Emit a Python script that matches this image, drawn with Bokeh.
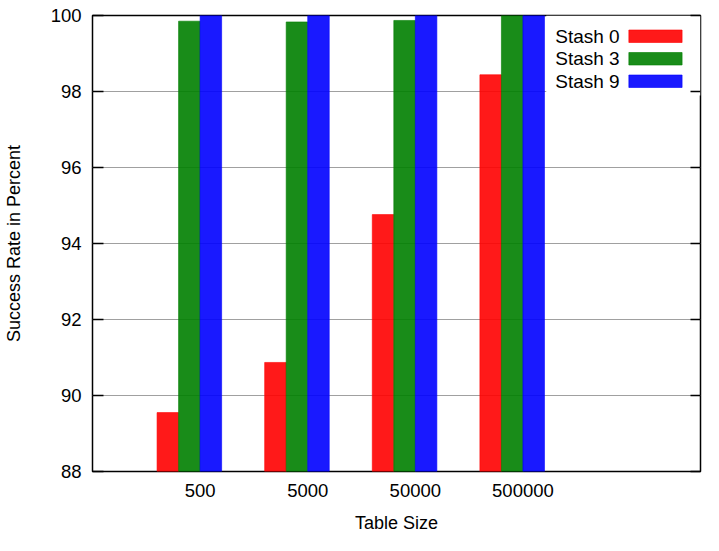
from bokeh.plotting import figure
from bokeh.models import (FixedTicker, LinearAxis, BoxAnnotation, Label, Range1d,
                          ColumnDataSource)
from bokeh.transform import dodge
from bokeh.embed import file_html
from bokeh.resources import INLINE

# ---- data ----
categories = ["500", "5000", "50000", "500000"]
stash0 = [89.55, 90.87, 94.76, 98.44]
stash3 = [99.85, 99.83, 99.87, 100.0]
stash9 = [100.0, 100.0, 100.0, 100.0]
series_names = ["Stash 0", "Stash 3", "Stash 9"]
y_ticks = [88, 90, 92, 94, 96, 98, 100]

# ---- layout ----
W, H = 703, 535
LEFT, RIGHT, TOP, BOTTOM = 89, 3, 15, 64
XMIN, XMAX = -1, 4.65
YMIN, YMAX = 88, 100
FONT = "Liberation Sans"
FS_TICK = "18.5px"
FS_LABEL = "18px"
FS_LEGEND = "19px"

pos = list(range(len(categories)))
src = ColumnDataSource(dict(pos=pos, cat=categories, s0=stash0, s3=stash3, s9=stash9))

p = figure(width=W, height=H, output_backend="svg", toolbar_location=None,
           x_range=Range1d(XMIN, XMAX), y_range=Range1d(YMIN, YMAX),
           min_border_left=LEFT, min_border_right=RIGHT,
           min_border_top=TOP, min_border_bottom=BOTTOM,
           background_fill_color="white", border_fill_color="white")

colors = ["#ff0000", "#007f00", "#0000ff"]
offsets = [-0.3, -0.1, 0.1]
for col, off, c in zip(["s0", "s3", "s9"], offsets, colors):
    p.vbar(x=dodge("pos", off, range=p.x_range), top=col, bottom=0, width=0.2,
           source=src, fill_color=c, fill_alpha=0.9, line_color=c, line_alpha=0.6,
           line_width=1)

# grid
p.xgrid.visible = False
p.ygrid.ticker = FixedTicker(ticks=y_ticks)
p.ygrid.grid_line_color = "#a0a0a0"
p.ygrid.grid_line_width = 1

# frame
p.outline_line_color = "black"
p.outline_line_width = 1.5
p.outline_line_alpha = 1

# x axis
xa = p.xaxis[0]
xa.ticker = FixedTicker(ticks=pos)
xa.major_label_overrides = {i: c for i, c in zip(pos, categories)}
xa.major_tick_in = 0
xa.major_tick_out = 0
xa.minor_tick_in = 0
xa.minor_tick_out = 0
xa.axis_line_color = None
xa.major_label_standoff = 12
xa.major_label_text_font = FONT
xa.major_label_text_font_size = FS_TICK
xa.major_label_text_color = "black"
xa.axis_label = "Table Size"
xa.axis_label_standoff = 13
xa.axis_label_text_font = FONT
xa.axis_label_text_font_size = FS_LABEL
xa.axis_label_text_font_style = "normal"
xa.axis_label_text_color = "black"

# y axis
ya = p.yaxis[0]
ya.ticker = FixedTicker(ticks=y_ticks)
ya.major_tick_in = 11
ya.major_tick_out = 0
ya.minor_tick_in = 0
ya.minor_tick_out = 0
ya.major_tick_line_color = "black"
ya.major_tick_line_width = 1.5
ya.axis_line_color = None
ya.major_label_standoff = 11
ya.major_label_text_font = FONT
ya.major_label_text_font_size = FS_TICK
ya.major_label_text_color = "black"
ya.axis_label = "Success Rate in Percent"
ya.axis_label_standoff = 24
ya.axis_label_text_font = FONT
ya.axis_label_text_font_size = FS_LABEL
ya.axis_label_text_font_style = "normal"
ya.axis_label_text_color = "black"

# mirrored ticks on the right border
ra = LinearAxis(ticker=FixedTicker(ticks=y_ticks),
                major_label_overrides={t: "" for t in y_ticks},
                major_tick_in=10, major_tick_out=0, minor_tick_in=0, minor_tick_out=0,
                major_tick_line_color="black", major_tick_line_width=1.5,
                axis_line_color=None, major_label_standoff=0)
p.add_layout(ra, "right")

# ---- legend (text then swatch, as in the original) ----
FRAME_W = W - LEFT - RIGHT
FRAME_H = H - TOP - BOTTOM
sx = FRAME_W / (XMAX - XMIN)
sy = FRAME_H / (YMAX - YMIN)


def fx(px_from_right):
    return XMAX - px_from_right / sx


def fy(px_from_top):
    return YMAX - px_from_top / sy


p.add_layout(BoxAnnotation(left=fx(155), right=XMAX, top=YMAX, bottom=fy(80),
                           fill_color="white", fill_alpha=1.0, line_color=None,
                           level="glyph"))
row_centers = [20.5, 43, 65.5]
for name, c, rc in zip(series_names, colors, row_centers):
    p.add_layout(Label(x=fx(146), y=fy(rc), text=name, text_font=FONT,
                       text_font_size=FS_LEGEND, text_color="black",
                       text_align="left", text_baseline="middle"))
    p.add_layout(BoxAnnotation(left=fx(72), right=fx(18.5), top=fy(rc - 6),
                               bottom=fy(rc + 6.5), fill_color=c, fill_alpha=0.9,
                               line_color=c, line_alpha=0.6, line_width=1))

open("out.html", "w").write(file_html(p, INLINE))
